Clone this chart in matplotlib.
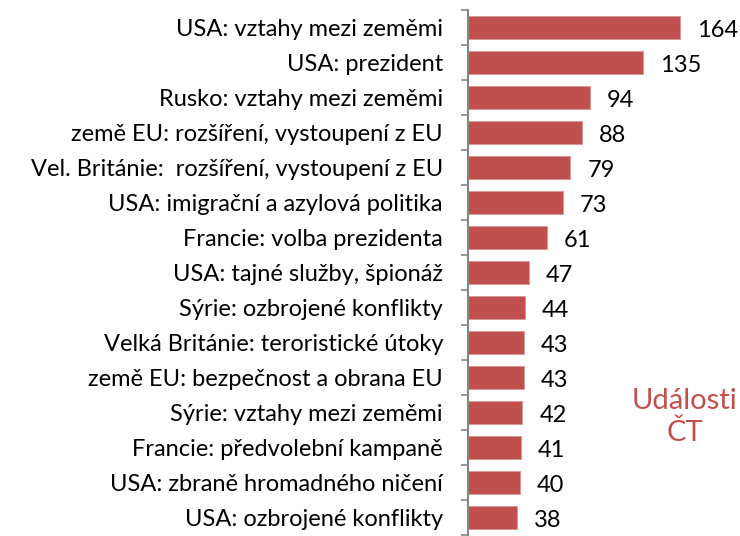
import matplotlib
matplotlib.use("Agg")
import matplotlib.pyplot as plt
import numpy as np

categories = [
    "USA: vztahy mezi zeměmi",
    "USA: prezident",
    "Rusko: vztahy mezi zeměmi",
    "země EU: rozšíření, vystoupení z EU",
    "Vel. Británie:  rozšíření, vystoupení z EU",
    "USA: imigrační a azylová politika",
    "Francie: volba prezidenta",
    "USA: tajné služby, špionáž",
    "Sýrie: ozbrojené konflikty",
    "Velká Británie: teroristické útoky",
    "země EU: bezpečnost a obrana EU",
    "Sýrie: vztahy mezi zeměmi",
    "Francie: předvolební kampaně",
    "USA: zbraně hromadného ničení",
    "USA: ozbrojené konflikty",
]
values = [164, 135, 94, 88, 79, 73, 61, 47, 44, 43, 43, 42, 41, 40, 38]
annotation = "Události\nČT"

bar_color = "#C0504D"
font = "Lato"
fs = 17

fig = plt.figure(figsize=(7.4, 5.36), dpi=100)
ax = fig.add_axes([468/740, 1 - 535/536, 1 - 468/740, (535 - 10)/536])

y = np.arange(len(categories))
ax.barh(y, values, height=0.66, color=bar_color, edgecolor="#D99694", linewidth=0.6)
ax.set_ylim(len(categories) - 0.5, -0.5)
ax.set_xlim(0, 210)

ax.set_yticks(y)
ax.set_yticklabels(categories, fontsize=fs, family=font)
ax.tick_params(axis="y", which="major", length=0, pad=18)
ax.set_yticks(np.arange(-0.5, len(categories), 1), minor=True)
ax.tick_params(axis="y", which="minor", length=5, width=1.2, color="#868686")
ax.set_xticks([])
for lbl in ax.get_yticklabels():
    lbl.set_verticalalignment("center_baseline")

for s in ["top", "right", "bottom"]:
    ax.spines[s].set_visible(False)
ax.spines["left"].set_color("#868686")
ax.spines["left"].set_linewidth(1.5)

for yi, v in zip(y, values):
    ax.annotate(str(v), xy=(v, yi), xytext=(17, -1), textcoords="offset pixels",
                va="center_baseline", ha="left", fontsize=fs, family=font, color="black")

fig.text(685/740, 1 - 417/536, annotation, color=bar_color, fontsize=21, family=font,
         ha="center", va="center", linespacing=1.3)

fig.savefig("out.png", dpi=100)
